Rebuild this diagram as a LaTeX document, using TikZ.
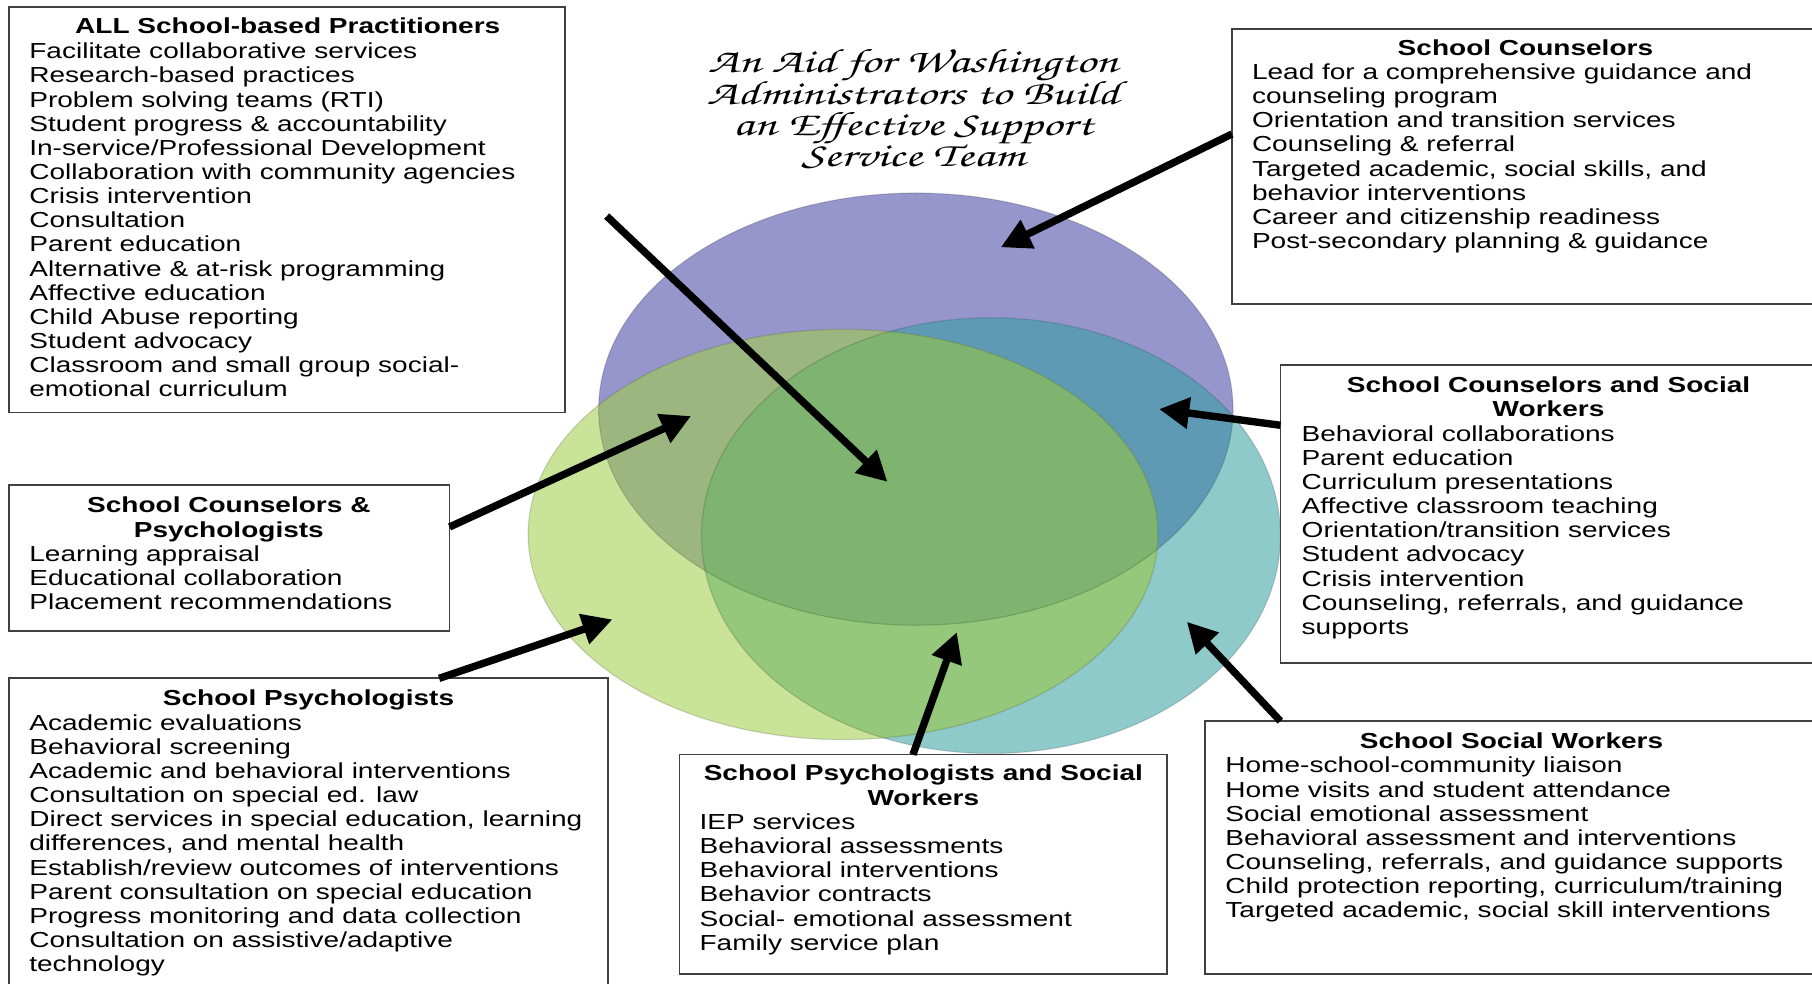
\documentclass[tikz,border=0pt]{standalone}
\usepackage{fontspec}
\setmainfont[FakeStretch=1.29]{Liberation Sans}
\newfontfamily\scriptfam[FakeStretch=1.45]{TeX Gyre Chorus}
\usetikzlibrary{arrows.meta}
\definecolor{cP}{HTML}{9695CC}
\definecolor{cT}{HTML}{8FCACA}
\definecolor{cG}{HTML}{C9E398}
\definecolor{cPT}{HTML}{5F9AB4}
\definecolor{cPG}{HTML}{9CB67F}
\definecolor{cTG}{HTML}{95C87A}
\definecolor{cPTG}{HTML}{7EB46F}
\definecolor{boxline}{HTML}{404040}
\newcommand\bodyfont{\fontsize{9.4pt}{10.45pt}\selectfont}
\newcommand\mylines[4]{\foreach \t [count=\i from 0] in {#4} {\node[itm] (#1\i) at (#2,{#3+6.8+20.9*\i}) {\t};}}
\def\Pell{(792.5,354) ellipse [x radius=137.25pt, y radius=93.5pt]}
\def\Tell{(857.5,463.5) ellipse [x radius=125.25pt, y radius=94.25pt]}
\def\Gell{(729.5,462.5) ellipse [x radius=136.25pt, y radius=88.75pt]}
\tikzset{
  box/.style={draw=boxline, line width=0.75pt, fill=white, anchor=north west, inner sep=0pt, outer sep=0pt},
  itm/.style={font=\bodyfont, anchor=base west, inner sep=0pt},
  ttl/.style={font=\bodyfont\bfseries, anchor=base, inner sep=0pt},
  scr/.style={font=\scriptfam\fontsize{14.6pt}{14.6pt}\selectfont, anchor=base, inner sep=0pt},
  arr/.style={line width=3.2pt, -{Triangle[length=13pt,width=13pt]}},
}
\begin{document}
\begin{tikzpicture}[x=0.5pt,y=-0.5pt]
\useasboundingbox (0,0) rectangle (1568,851);
\clip (0,0) rectangle (1568,851);
\fill[white] (0,0) rectangle (1568,851);
% Venn ellipses
\fill[cP] \Pell;
\fill[cT] \Tell;
\begin{scope} \clip \Pell; \fill[cPT] \Tell; \end{scope}
\fill[cG] \Gell;
\begin{scope} \clip \Pell; \fill[cPG] \Gell; \end{scope}
\begin{scope} \clip \Tell; \fill[cTG] \Gell; \end{scope}
\begin{scope} \clip \Pell; \clip \Tell; \fill[cPTG] \Gell; \end{scope}
\draw[black, opacity=0.15, line width=0.5pt] \Pell;
\draw[black, opacity=0.15, line width=0.5pt] \Tell;
\draw[black, opacity=0.15, line width=0.5pt] \Gell;
% title
\node[scr] (h1) at (790,63) {An Aid for Washington};
\node[scr] (h2) at (790,90) {Administrators to Build};
\node[scr] (h3) at (790,117) {an Effective Support};
\node[scr] (h4) at (790,144) {Service Team};
% boxes
\node[box, minimum width=240.5pt, minimum height=175.5pt] (all) at (8,6) {};
\node[box, minimum width=257pt, minimum height=119pt] (sc) at (1066,25) {};
\node[box, minimum width=236pt, minimum height=129pt] (scsw) at (1108,316) {};
\node[box, minimum width=190.5pt, minimum height=63pt] (scp) at (8,420) {};
\node[box, minimum width=259pt, minimum height=145pt] (sp) at (8,587) {};
\node[box, minimum width=211pt, minimum height=95pt] (spsw) at (588,653) {};
\node[box, minimum width=266pt, minimum height=109.5pt] (ssw) at (1043,624) {};
% ALL
\node[ttl] (allT) at (249,28.8) {ALL School-based Practitioners};
\mylines{all}{25}{44}{Facilitate collaborative services, Research-based practices, Problem solving teams (RTI), Student progress \& accountability, In-service/Professional Development, Collaboration with community agencies, Crisis intervention, Consultation, Parent education, Alternative \& at-risk programming, Affective education, Child Abuse reporting, Student advocacy, Classroom and small group social-, emotional curriculum}
% School Counselors
\node[ttl] (scT) at (1320,47.8) {School Counselors};
\mylines{sc}{1083}{62}{Lead for a comprehensive guidance and, counseling program, Orientation and transition services, Counseling \& referral, {Targeted academic, social skills, and}, behavior interventions, Career and citizenship readiness, Post-secondary planning \& guidance}
% School Counselors and Social Workers
\node[ttl] (scswT1) at (1340,339.8) {School Counselors and Social};
\node[ttl] (scswT2) at (1340,360.7) {Workers};
\mylines{scsw}{1126}{375}{Behavioral collaborations, Parent education, Curriculum presentations, Affective classroom teaching, Orientation/transition services, Student advocacy, Crisis intervention, {Counseling, referrals, and guidance}, supports}
% School Counselors & Psychologists
\node[ttl] (scpT1) at (198,443.8) {School Counselors \&};
\node[ttl] (scpT2) at (198,464.7) {Psychologists};
\mylines{scp}{25}{479}{Learning appraisal, Educational collaboration, Placement recommendations}
% School Psychologists
\node[ttl] (spT) at (267,610.8) {School Psychologists};
\mylines{sp}{25}{625}{Academic evaluations, Behavioral screening, Academic and behavioral interventions, Consultation on special ed. law, {Direct services in special education, learning}, {differences, and mental health}, Establish/review outcomes of interventions, Parent consultation on special education, Progress monitoring and data collection, Consultation on assistive/adaptive, technology}
% School Psychologists and Social Workers
\node[ttl] (spswT1) at (799,675.8) {School Psychologists and Social};
\node[ttl] (spswT2) at (799,696.7) {Workers};
\mylines{spsw}{605}{711}{IEP services, Behavioral assessments, Behavioral interventions, Behavior contracts, Social- emotional assessment, Family service plan}
% School Social Workers
\node[ttl] (sswT) at (1308,647.8) {School Social Workers};
\mylines{ssw}{1060}{662}{Home-school-community liaison, Home visits and student attendance, Social emotional assessment, Behavioral assessment and interventions, {Counseling, referrals, and guidance supports}, {Child protection reporting, curriculum/training}, {Targeted academic, social skill interventions}}
% arrows
\coordinate (a1s) at (525,187);
\coordinate (a1e) at (768,417);
\coordinate (a2e) at (866,214);
\coordinate (a3e) at (598,360);
\coordinate (a4e) at (1003,354);
\coordinate (a5e) at (530,536);
\coordinate (a6e) at (828,547);
\coordinate (a7e) at (1027,538);
\draw[arr] (a1s) -- (a1e);
\draw[arr] ([yshift=-45.5pt]sc.north west) -- (a2e);
\draw[arr] ([yshift=-18pt]scp.north east) -- (a3e);
\draw[arr] ([yshift=-26pt]scsw.north west) -- (a4e);
\draw[arr] ([xshift=186pt]sp.north west) -- (a5e);
\draw[arr] ([xshift=101pt]spsw.north west) -- (a6e);
\draw[arr] ([xshift=32.5pt]ssw.north west) -- (a7e);
\end{tikzpicture}
\end{document}
